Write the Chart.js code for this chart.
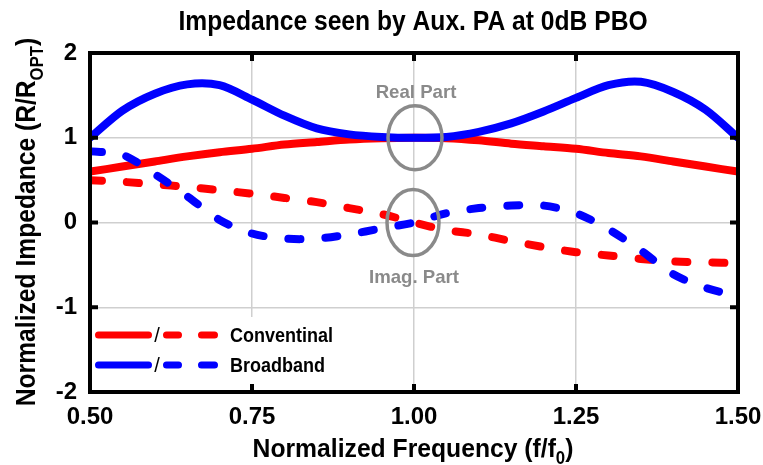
<!DOCTYPE html>
<html>
<head>
<meta charset="utf-8">
<script src="https://cdn.jsdelivr.net/npm/chart.js@4"></script>
<style>
  html, body { margin: 0; padding: 0; background: #fff; }
  #wrap { width: 763px; height: 465px; }
</style>
</head>
<body>
<div id="wrap"><canvas id="impChart" width="763" height="465"></canvas></div>
<script>
// ============ 数据 ============
const FREQ       = [0.50, 0.55, 0.60, 0.65, 0.70, 0.75, 0.80, 0.85, 0.90, 0.95, 1.00,
                    1.05, 1.10, 1.15, 1.20, 1.25, 1.30, 1.35, 1.40, 1.45, 1.50];
const BB_REAL    = [1.00, 1.32, 1.52, 1.63, 1.62, 1.45, 1.26, 1.11, 1.04, 1.01, 1.00,
                    1.01, 1.07, 1.17, 1.31, 1.47, 1.62, 1.66, 1.54, 1.33, 1.00];
const CONV_REAL  = [0.60, 0.66, 0.72, 0.78, 0.83, 0.87, 0.92, 0.95, 0.98, 0.995, 1.00,
                    0.995, 0.97, 0.93, 0.90, 0.87, 0.82, 0.78, 0.72, 0.66, 0.60];
const BB_IMAG    = [0.84, 0.80, 0.57, 0.31, 0.03, -0.13, -0.19, -0.19, -0.14, -0.07, 0.00,
                    0.11, 0.17, 0.20, 0.20, 0.11, -0.08, -0.33, -0.61, -0.77, -0.87];
const CONV_IMAG  = [0.50, 0.48, 0.45, 0.42, 0.38, 0.34, 0.29, 0.24, 0.17, 0.10, 0.00,
                    -0.09, -0.14, -0.22, -0.29, -0.35, -0.39, -0.43, -0.46, -0.47, -0.48];
const LEGEND_NAMES = ['Conventinal', 'Broadband'];

const RED = '#ff0000';
const BLUE = '#0000ff';
const GRAY = '#8a8a8a';
const FONT = '"Liberation Sans", Arial, sans-serif';

const pts = arr => arr.map((v, i) => ({ x: FREQ[i], y: v }));

// 压缩宽度的文字（支持下标）
function drawText(ctx, parts, x, y, size, sx, color, rotate) {
    ctx.save();
    ctx.fillStyle = color || '#000';
    ctx.textBaseline = 'alphabetic';
    ctx.textAlign = 'left';
    let total = 0;
    parts.forEach(p => {
        ctx.font = `bold ${p.sub ? size * 0.68 : size}px ${FONT}`;
        total += ctx.measureText(p.t).width;
    });
    ctx.translate(x, y);
    if (rotate) ctx.rotate(rotate);
    ctx.scale(sx, 1);
    let cx = -total / 2;
    parts.forEach(p => {
        ctx.font = `bold ${p.sub ? size * 0.68 : size}px ${FONT}`;
        ctx.fillText(p.t, cx, p.sub ? size * 0.28 : 0);
        cx += ctx.measureText(p.t).width;
    });
    ctx.restore();
}

const decorPlugin = {
    id: 'decor',
    beforeDatasetsDraw(chart) {
        const ctx = chart.ctx;
        // 图例白底
        ctx.save();
        ctx.fillStyle = '#fff';
        ctx.fillRect(chart.chartArea.left + 2, 317, 258, chart.chartArea.bottom - 317);
        ctx.restore();
    },
    afterDraw(chart) {
        const ctx = chart.ctx;
        const a = chart.chartArea;
        const xs = chart.scales.x, ys = chart.scales.y;

        // 边框
        ctx.save();
        ctx.strokeStyle = '#000';
        ctx.lineWidth = 4;
        ctx.strokeRect(a.left, a.top, a.right - a.left, a.bottom - a.top);
        // 内向刻度
        [0.75, 1.0, 1.25].forEach(v => {
            const px = xs.getPixelForValue(v);
            ctx.beginPath();
            ctx.moveTo(px, a.bottom); ctx.lineTo(px, a.bottom - 8);
            ctx.moveTo(px, a.top); ctx.lineTo(px, a.top + 8);
            ctx.stroke();
        });
        [-1, 0, 1].forEach(v => {
            const py = ys.getPixelForValue(v);
            ctx.beginPath();
            ctx.moveTo(a.left, py); ctx.lineTo(a.left + 8, py);
            ctx.moveTo(a.right, py); ctx.lineTo(a.right - 8, py);
            ctx.stroke();
        });
        ctx.restore();

        // 标注圆圈
        ctx.save();
        ctx.strokeStyle = GRAY;
        ctx.lineWidth = 3.5;
        const cx = xs.getPixelForValue(1.0);
        ctx.beginPath();
        ctx.ellipse(cx + 1, ys.getPixelForValue(1.0), 27, 32, 0, 0, Math.PI * 2);
        ctx.stroke();
        ctx.beginPath();
        ctx.ellipse(cx - 1, ys.getPixelForValue(0.0), 26, 33, 0, 0, Math.PI * 2);
        ctx.stroke();
        ctx.restore();
        drawText(ctx, [{ t: 'Real Part' }], cx + 2, 98, 19, 0.98, GRAY);
        drawText(ctx, [{ t: 'Imag. Part' }], cx, 283, 19, 0.98, GRAY);

        // 标题与坐标轴标题
        drawText(ctx, [{ t: 'Impedance seen by Aux. PA at 0dB PBO' }], 413, 30, 28, 0.88);
        drawText(ctx, [{ t: 'Normalized Frequency (f/f' }, { t: '0', sub: true }, { t: ')' }],
            413, 457, 26, 0.95);
        drawText(ctx, [{ t: 'Normalized Impedance (R/R' }, { t: 'OPT', sub: true }, { t: ')' }],
            35, 222, 28, 0.88, '#000', -Math.PI / 2);

        // 图例
        const rows = [{ c: RED, y: 335 }, { c: BLUE, y: 365 }];
        rows.forEach((r, i) => {
            ctx.save();
            ctx.strokeStyle = r.c;
            ctx.lineWidth = 7;
            ctx.lineCap = 'round';
            ctx.beginPath();
            ctx.moveTo(98.5, r.y); ctx.lineTo(148.5, r.y);
            ctx.moveTo(166.5, r.y); ctx.lineTo(178.5, r.y);
            ctx.moveTo(201.5, r.y); ctx.lineTo(214.5, r.y);
            ctx.stroke();
            ctx.fillStyle = '#000';
            ctx.font = `20px ${FONT}`;
            ctx.textAlign = 'center';
            ctx.textBaseline = 'middle';
            ctx.fillText('/', 157, r.y + 1);
            ctx.restore();
            ctx.save();
            ctx.font = `bold 20px ${FONT}`;
            const w = ctx.measureText(LEGEND_NAMES[i]).width * 0.9;
            ctx.restore();
            drawText(ctx, [{ t: LEGEND_NAMES[i] }], 230 + w / 2, r.y + 7, 20, 0.9);
        });
    }
};

const lineStyle = (color, dashed) => ({
    borderColor: color,
    backgroundColor: color,
    borderWidth: 8,
    borderDash: dashed ? [12, 25] : [],
    borderCapStyle: 'round',
    borderJoinStyle: 'round',
    pointRadius: 0,
    tension: 0.3,
    fill: false
});

new Chart(document.getElementById('impChart'), {
    type: 'line',
    data: {
        datasets: [
            { label: 'Broadband Real', data: pts(BB_REAL), ...lineStyle(BLUE, false) },
            { label: 'Broadband Imag', data: pts(BB_IMAG), ...lineStyle(BLUE, true) },
            { label: 'Conventinal Real', data: pts(CONV_REAL), ...lineStyle(RED, false) },
            { label: 'Conventinal Imag', data: pts(CONV_IMAG), ...lineStyle(RED, true) }
        ]
    },
    options: {
        responsive: false,
        animation: false,
        layout: { padding: { top: 53, right: 25, left: 0, bottom: 0 } },
        plugins: { legend: { display: false }, title: { display: false }, tooltip: { enabled: false } },
        scales: {
            x: {
                type: 'linear',
                min: 0.5, max: 1.5,
                afterFit: s => { s.height = 73; s.paddingLeft = 0; s.paddingRight = 0; },
                ticks: {
                    stepSize: 0.25,
                    color: '#000',
                    padding: 11,
                    font: { family: FONT, size: 24, weight: 'bold' },
                    callback: v => v.toFixed(2)
                },
                grid: { color: '#cfcfcf', lineWidth: 1.5, drawTicks: false },
                border: { display: false }
            },
            y: {
                min: -2, max: 2,
                afterFit: s => { s.width = 90; s.paddingTop = 0; s.paddingBottom = 0; },
                ticks: {
                    stepSize: 1,
                    color: '#000',
                    padding: 13,
                    font: { family: FONT, size: 24, weight: 'bold' }
                },
                grid: { color: '#cfcfcf', lineWidth: 1.5, drawTicks: false },
                border: { display: false }
            }
        }
    },
    plugins: [decorPlugin]
});
</script>
</body>
</html>
